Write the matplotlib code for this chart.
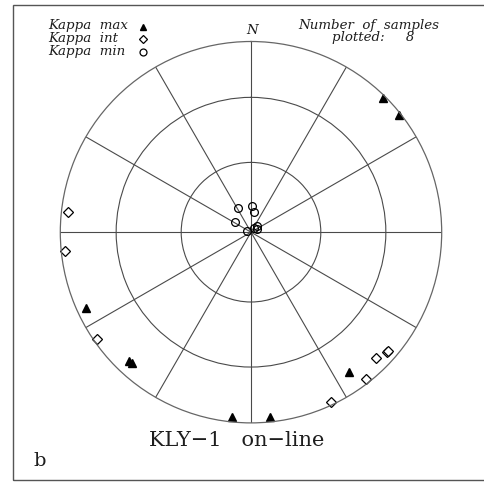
import numpy as np
import matplotlib
matplotlib.use("Agg")
from matplotlib import pyplot as plt
from matplotlib.patches import Rectangle

# principal axes of susceptibility, lower hemisphere (trend, plunge in degrees)
kmax_trend = [44.5, 51.6, 245.2, 222.4, 223.5, 145.0, 186.0, 174.1]
kmax_plunge = [1.2, 1.0, 5.5, 8.2, 8.0, 11.7, 3.1, 3.1]
kint_trend = [276.2, 264.3, 235.3, 135.3, 131.5, 131.0, 141.9, 154.8]
kint_plunge = [3.7, 2.4, 1.8, 7.6, 5.7, 5.4, 2.4, 1.8]
kmin_trend = [332.0, 1.5, 9.4, 301.7, 290.0, 31.6, 43.0, 61.4]
kmin_plunge = [78.5, 78.9, 81.4, 82.0, 88.1, 87.7, 86.3, 86.9]

grid_plunges = [60, 30]
legend_labels = ["Kappa  max", "Kappa  int", "Kappa  min"]
n_samples = 8

W, H = 485, 483
LINE = "#4a4a4a"
INK = "#1e1e1e"
SERIF = ["DejaVu Serif"]


def schmidt(plunge):
    # equal-area (Schmidt) radius, 1 at the primitive circle
    p = np.radians(np.asarray(plunge, dtype=float))
    return np.sqrt(2) * np.sin((np.pi / 2 - p) / 2)


fig = plt.figure(figsize=(W / 100, H / 100), dpi=100)
fig.patch.set_facecolor("white")

# net centred at (251, 232) px, radius 190.7 px
cx, cy, R = 251.0, 232.2, 190.7
ax = fig.add_axes([(cx - R) / W, (H - cy - R) / H, 2 * R / W, 2 * R / H],
                  projection="polar")
ax.set_theta_zero_location("N")
ax.set_theta_direction(-1)
ax.set_ylim(0, 1)
ax.set_rgrids(schmidt(grid_plunges), labels=["", ""])
ax.set_thetagrids(np.arange(0, 360, 30), labels=[""] * 12)
ax.grid(True, color=LINE, linewidth=0.8)
ax.spines["polar"].set_color("#666666")
ax.spines["polar"].set_linewidth(0.9)
ax.set_facecolor("none")

ax.plot(np.radians(kmax_trend), schmidt(kmax_plunge), linestyle="none",
        marker="^", ms=6, color="black", clip_on=False)
ax.plot(np.radians(kint_trend), schmidt(kint_plunge), linestyle="none",
        marker="D", ms=4.6, mfc="white", mec="black", mew=0.9, clip_on=False)
ax.plot(np.radians(kmin_trend), schmidt(kmin_plunge), linestyle="none",
        marker="o", ms=5.6, mfc="none", mec="black", mew=0.9, clip_on=False)


def fx(px):
    return px / W


def fy(py):
    return 1 - py / H


# frame (right edge runs off the scan)
fig.add_artist(Rectangle((fx(13), fy(480)), fx(487) - fx(13), fy(5) - fy(480),
                         transform=fig.transFigure, fill=False,
                         edgecolor="#555555", linewidth=1.0))

# legend
for i, lab in enumerate(legend_labels):
    fig.text(fx(48), fy(25 + 13.5 * i), lab, family=SERIF, style="italic",
             fontsize=9.6, color=INK, va="center", ha="left")
fig.lines.append(plt.Line2D([fx(143.5)], [fy(26.5)], transform=fig.transFigure,
                            marker="^", ms=5, color="black", linestyle="none"))
fig.lines.append(plt.Line2D([fx(143.5)], [fy(39)], transform=fig.transFigure,
                            marker="D", ms=4.2, mfc="white", mec="black",
                            mew=0.9, linestyle="none"))
fig.lines.append(plt.Line2D([fx(143.5)], [fy(52.3)], transform=fig.transFigure,
                            marker="o", ms=5, mfc="none", mec="black",
                            mew=0.9, linestyle="none"))

fig.text(fx(252), fy(31), "N", family=SERIF, style="italic", fontsize=9.6,
         color=INK, ha="center", va="center")
fig.text(fx(369), fy(25.5), "Number  of  samples", family=SERIF,
         style="italic", fontsize=9.6, color=INK, ha="center", va="center")
fig.text(fx(373), fy(37), f"plotted:     {n_samples}", family=SERIF,
         style="italic", fontsize=9.6, color=INK, ha="center", va="center")

fig.text(fx(237), fy(441), "KLY\u22121   on\u2212line", family=SERIF,
         fontsize=15, color=INK, ha="center", va="center")
fig.text(fx(40), fy(461), "b", family=SERIF, fontsize=14, color=INK,
         ha="center", va="center")

fig.savefig("out.png", dpi=100)
